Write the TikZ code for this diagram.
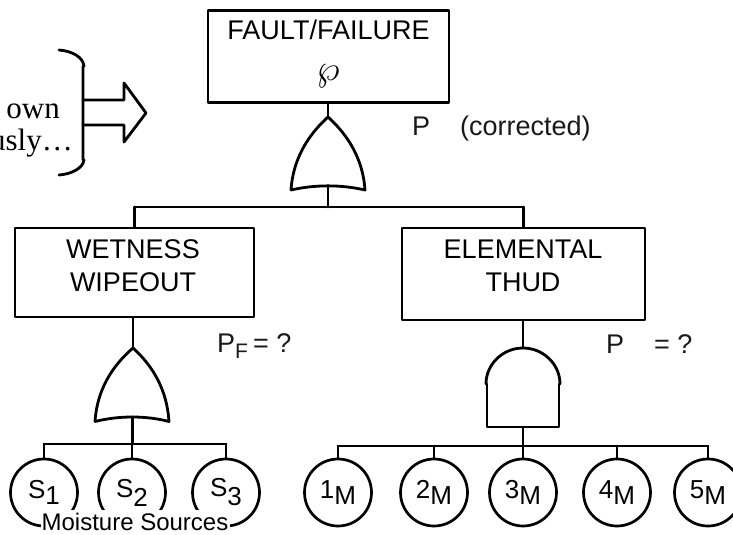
\documentclass[tikz,border=0pt]{standalone}
\usepackage{fontspec}
\setmainfont{Liberation Sans}
\newfontfamily\serifface{Liberation Serif}
\newcommand{\fsz}[1]{\fontsize{#1}{#1}\selectfont}
\newcommand{\subdown}[1]{\raisebox{-6pt}{#1}}
\tikzset{
  ln/.style={line width=2.8pt, line cap=round, line join=round, black},
  thin ln/.style={line width=2.7pt, line cap=round, line join=round, black},
  eventbox/.style={draw, ln, fill=white, rectangle, inner sep=0pt, align=center},
  basic/.style={draw, thin ln, fill=white, circle, inner sep=0pt, minimum size=67pt, font=\fsz{26}},
  boxtext/.style={inner sep=0pt, anchor=base, font=\fsz{27}},
  lab/.style={inner sep=0pt, anchor=base west, font=\fsz{27}, text=black!90},
}
\begin{document}
\begin{tikzpicture}[x=1pt,y=-1pt]
\clip (0,0) rectangle (733,535);
\fill[white] (0,0) rectangle (733,535);
% boxes
\node[eventbox, minimum width=241pt, minimum height=92pt] (top) at (328.5,56.5) {};
\node[boxtext] (toptext) at (328.5,40) {FAULT/FAILURE};
\node[inner sep=0pt] (wpsym) at (328,76) {\scalebox{3.6}{$\wp$}};
\node[eventbox, minimum width=239pt, minimum height=89pt] (wet) at (134.5,272.5) {};
\node[boxtext] (wet1) at (133,258) {WETNESS};
\node[boxtext] (wet2) at (133,291) {WIPEOUT};
\node[eventbox, minimum width=243pt, minimum height=92pt] (thud) at (523.5,274) {};
\node[boxtext] (el1) at (523,258) {ELEMENTAL};
\node[boxtext] (el2) at (523,291) {THUD};
% gate coordinates
\coordinate (orAtop) at (328,117);
\coordinate (orAl) at (291,190);
\coordinate (orAr) at (365,190);
\coordinate (orAb) at (328,186);
\coordinate (busA) at (328,207);
\coordinate (orBtop) at (133,348);
\coordinate (orBl) at (95,421.5);
\coordinate (orBr) at (169,421.5);
\coordinate (orBb) at (132.5,417);
\coordinate (busB) at (132.5,444);
\coordinate (andtop) at (523,348);
\coordinate (andb) at (523,427);
\coordinate (busC) at (523,446);
% gates
\draw[ln] (orAl) .. controls (293,160) and (307,136) .. (orAtop) .. controls (349,136) and (363,160) .. (orAr) .. controls (341,184.5) and (315,184.5) .. (orAl);
\draw[ln] (orBl) .. controls (97,391) and (111,367) .. (orBtop) .. controls (154,367) and (167,391) .. (orBr) .. controls (146,415.5) and (119,415.5) .. (orBl);
\draw[ln] (487,384) -- (487,427) -- (559,427) -- (559,384);
\draw[ln] (486,384) .. controls (486,364) and (503,348) .. (andtop) .. controls (543,348) and (560,364) .. (560,384);
% basic events
\node[basic] (s1) at (44,492.5) {S\subdown{1}};
\node[basic] (s2) at (132,492.5) {\raisebox{3pt}{S}\subdown{2}};
\node[basic] (s3) at (226,492.5) {\raisebox{3pt}{S}\subdown{3}};
\node[basic] (m1) at (338,492.5) {1\subdown{M}};
\node[basic] (m2) at (434,492.5) {2\subdown{M}};
\node[basic] (m3) at (523,492.5) {3\subdown{M}};
\node[basic] (m4) at (617,492.5) {4\subdown{M}};
\node[basic] (m5) at (708,492.5) {5\subdown{M}};
% connectors
\draw[ln] (top.south -| orAtop) -- (orAtop);
\draw[ln] (orAb) -- (busA);
\draw[ln] (wet.north |- busA) -- (thud.north |- busA);
\draw[ln] (wet.north |- busA) -- (wet.north);
\draw[ln] (thud.north |- busA) -- (thud.north);
\draw[ln] (wet.south -| orBtop) -- (orBtop);
\draw[ln] (orBb) -- (busB);
\draw[thin ln] (s1.north |- busB) -- (s3.north |- busB);
\draw[thin ln] (s1.north |- busB) -- (s1.north);
\draw[thin ln] (s2.north |- busB) -- (s2.north);
\draw[thin ln] (s3.north |- busB) -- (s3.north);
\draw[ln] (thud.south -| andtop) -- (andtop);
\draw[ln] (andb) -- (busC);
\draw[thin ln] (m1.north |- busC) -- (m5.north |- busC);
\foreach \n in {m1,m2,m3,m4,m5} \draw[thin ln] (\n.north |- busC) -- (\n.north);
% caption over circles
\fill[white] (41,510) rectangle (230,535);
\node[inner sep=0pt, anchor=base, font=\fsz{24}] (moist) at (135,530) {Moisture Sources};
% side note
\draw[ln] (59,50) .. controls (72,51) and (83,57) .. (84,66) -- (83,66) -- (83,160) -- (84,160) .. controls (83,168) and (72,174) .. (59,175);
\draw[ln] (83,100) -- (124,100) -- (124,83) -- (146,113) -- (124,142) -- (124,125) -- (83,125);
\node[inner sep=0pt, anchor=base east, font=\serifface\fsz{31}] (own) at (60,118) {own};
\node[inner sep=0pt, anchor=base east, font=\serifface\fsz{31}] (usly) at (73,150) {usly…};
% probability labels
\node[lab] (p1) at (412,135) {P};
\node[lab] (corr) at (460,135) {(corrected)};
\node[lab] (pf) at (217,352) {P\subdown{\fsz{21}F}\hspace{5pt}= ?};
\node[lab] (p2) at (606,353) {P};
\node[lab] (p2q) at (654,353) {= ?};
\end{tikzpicture}
\end{document}
